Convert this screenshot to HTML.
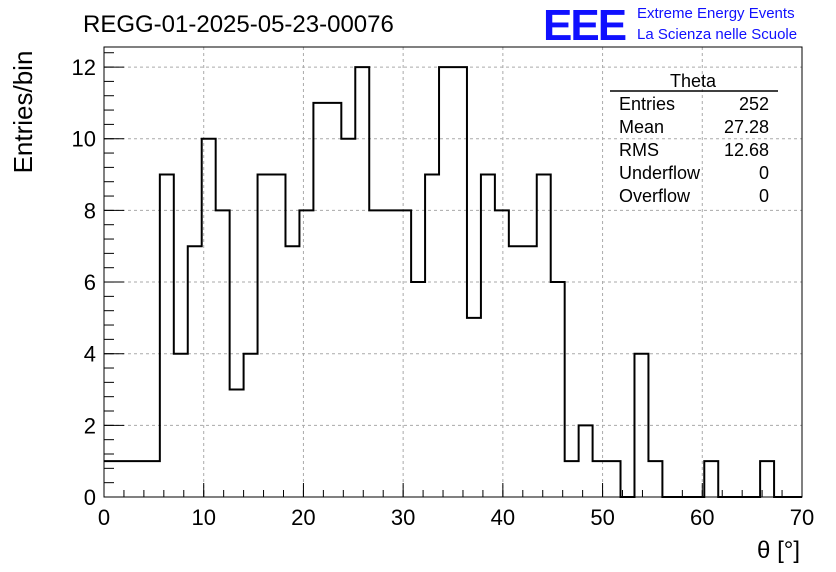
<!DOCTYPE html>
<html><head><meta charset="utf-8"><style>
body{margin:0;background:#fff;}
svg{display:block;font-family:"Liberation Sans",sans-serif;}
</style></head><body>
<svg id="c" width="836" height="572">
<text x="83" y="32" font-size="24">REGG-01-2025-05-23-00076</text>
<text x="543" y="40" font-size="44" fill="#1010ff" font-weight="bold" letter-spacing="-2">EEE</text>
<text x="637" y="18" font-size="15" fill="#1010ff">Extreme Energy Events</text>
<text x="637" y="39" font-size="15" fill="#1010ff">La Scienza nelle Scuole</text>
<text transform="translate(32,112) rotate(-90)" text-anchor="middle" font-size="26">Entries/bin</text>
<text x="800" y="558" text-anchor="end" font-size="24">θ [°]</text>
<g id="grid"></g>
<g id="axes"></g>
<path id="hist" fill="none" stroke="#000" stroke-width="2"/>
<rect x="104" y="47" width="698" height="450" fill="none" stroke="#000" stroke-width="1"/>
<g font-size="18">
<text x="693" y="87" text-anchor="middle">Theta</text>
<line x1="610" y1="91" x2="778" y2="91" stroke="#000" stroke-width="1.5"/>
<text x="619" y="110">Entries</text><text x="769" y="110" text-anchor="end">252</text>
<text x="619" y="133">Mean</text><text x="769" y="133" text-anchor="end">27.28</text>
<text x="619" y="156">RMS</text><text x="769" y="156" text-anchor="end">12.68</text>
<text x="619" y="179">Underflow</text><text x="769" y="179" text-anchor="end">0</text>
<text x="619" y="202">Overflow</text><text x="769" y="202" text-anchor="end">0</text>
</g>
</svg>
<script>
const binCounts=[1,1,1,1,9,4,7,10,8,3,4,9,9,7,8,11,11,10,12,8,8,8,6,9,12,12,5,9,8,7,7,9,6,1,2,1,1,0,4,1,0,0,0,1,0,0,0,1,0,0];
const xMin=0,xMax=70,yMin=0,yMax=12.56;
const xTicks=[0,10,20,30,40,50,60,70];
const yTicks=[0,2,4,6,8,10,12];
const L=104,R=802,T=47,B=497;
const sx=v=>L+(v-xMin)/(xMax-xMin)*(R-L);
const sy=v=>B-(v-yMin)/(yMax-yMin)*(B-T);
const NS="http://www.w3.org/2000/svg";
const grid=document.getElementById('grid'),axes=document.getElementById('axes');
function ln(g,x1,y1,x2,y2,dash,name){const l=document.createElementNS(NS,'line');
l.setAttribute('x1',x1);l.setAttribute('y1',y1);l.setAttribute('x2',x2);l.setAttribute('y2',y2);
l.setAttribute('stroke',dash?'#aaa':'#000');l.setAttribute('stroke-width','1');if(dash)l.setAttribute('stroke-dasharray','3,3');


g.appendChild(l);}
function tx(x,y,s,anchor,name){const t=document.createElementNS(NS,'text');t.setAttribute('x',x);t.setAttribute('y',y);
t.setAttribute('text-anchor',anchor);t.setAttribute('font-size','22');t.textContent=s;


axes.appendChild(t);}
xTicks.forEach(v=>{const x=sx(v);if(v>xMin&&v<xMax)ln(grid,x,T,x,B,true,'x-grid-line');ln(axes,x,B,x,B-14,false,'x-major-tick');tx(x,525,String(v),'middle','x-tick-label');});
for(let v=xMin;v<=xMax;v+=2){ln(axes,sx(v),B,sx(v),B-7,false,'x-minor-tick');}
yTicks.forEach(v=>{const y=sy(v);if(v>yMin)ln(grid,L,y,R,y,true,'y-grid-line');ln(axes,L,y,L+20,y,false,'y-major-tick');tx(96,y+8,String(v),'end','y-tick-label');});
for(let v=0;v<=12.5;v+=0.4){ln(axes,L,sy(v),L+10,sy(v),false,'y-minor-tick');}
const w=(xMax-xMin)/binCounts.length;
let d='M'+sx(xMin)+','+sy(binCounts[0]);
binCounts.forEach((c,i)=>{d+=' L'+sx(xMin+i*w)+','+sy(c)+' L'+sx(xMin+(i+1)*w)+','+sy(c);});
document.getElementById('hist').setAttribute('d',d);
</script>
</body></html>
